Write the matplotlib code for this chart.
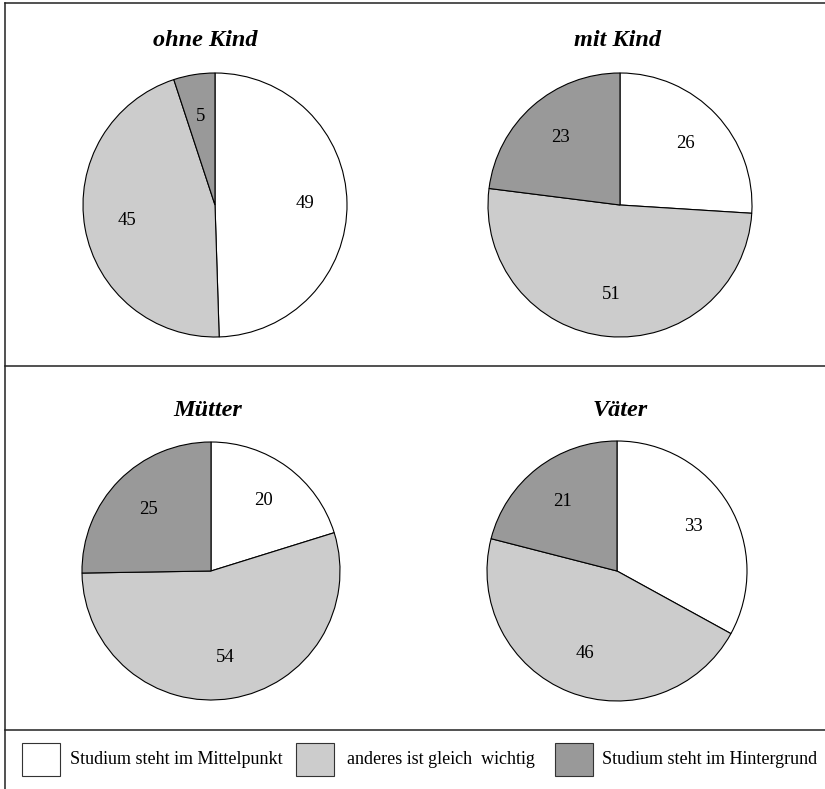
import matplotlib
matplotlib.use("Agg")
import matplotlib.pyplot as plt
from matplotlib.lines import Line2D
from matplotlib.patches import Rectangle

# -------------------------------
# DATA
# -------------------------------
titles = ["ohne Kind", "mit Kind", "Mütter", "Väter"]
studium_mitte = [49, 26, 20, 33]
gleich_wichtig = [45, 51, 54, 46]
hintergrund = [5, 23, 25, 21]
legend_labels = ["Studium steht im Mittelpunkt",
                 "anderes ist gleich  wichtig",
                 "Studium steht im Hintergrund"]
colors = ["#ffffff", "#cccccc", "#999999"]

W, H = 825, 789
plt.rcParams["font.family"] = ["Liberation Serif", "DejaVu Serif"]
fig = plt.figure(figsize=(W / 100, H / 100), dpi=100)


def fx(x):
    return x / W


def fy(y):
    return 1 - y / H


# pie centres (px) and radii
centres = [(215, 205), (620, 205), (211, 571), (617, 571)]
radii = [132, 132, 129, 130]
title_pos = [(205, 41), (617, 41), (208, 410), (620, 410)]

for i, (cx, cy) in enumerate(centres):
    r = radii[i]
    ax = fig.add_axes([fx(cx - r), fy(cy + r), 2 * r / W, 2 * r / H])
    vals = [studium_mitte[i], gleich_wichtig[i], hintergrund[i]]
    ax.pie(vals, colors=colors, startangle=90, counterclock=False,
           labels=[str(v) for v in vals], labeldistance=0.68,
           textprops=dict(fontsize=13.5, ha="center", va="center"),
           wedgeprops=dict(edgecolor="black", linewidth=0.8))
    ax.set_xlim(-1, 1)
    ax.set_ylim(-1, 1)
    ax.set_axis_off()
    tx, ty = title_pos[i]
    fig.text(fx(tx), fy(ty), titles[i], ha="center", va="center",
             fontsize=17.5, fontweight="bold", fontstyle="italic")

# -------------------------------
# FRAME LINES
# -------------------------------
lc = "#222222"
lw = 1.1
fig.add_artist(Line2D([fx(5), 1], [fy(3), fy(3)], color=lc, lw=lw))
fig.add_artist(Line2D([fx(5), fx(5)], [fy(3), 0], color=lc, lw=lw))
fig.add_artist(Line2D([fx(5), 1], [fy(366), fy(366)], color=lc, lw=lw))
fig.add_artist(Line2D([fx(5), 1], [fy(730), fy(730)], color=lc, lw=lw))

# -------------------------------
# LEGEND
# -------------------------------
box_x = [22, 296, 555]
text_x = [70, 347, 602]
box_w, box_y0, box_y1 = 38, 743, 776
for bx, lx, c, lab in zip(box_x, text_x, colors, legend_labels):
    fig.add_artist(Rectangle((fx(bx), fy(box_y1)), box_w / W,
                             (box_y1 - box_y0) / H, facecolor=c,
                             edgecolor="#333333", lw=0.8,
                             transform=fig.transFigure))
    fig.text(fx(lx), fy(759), lab, ha="left", va="center", fontsize=13)

fig.savefig("out.png", dpi=100)
